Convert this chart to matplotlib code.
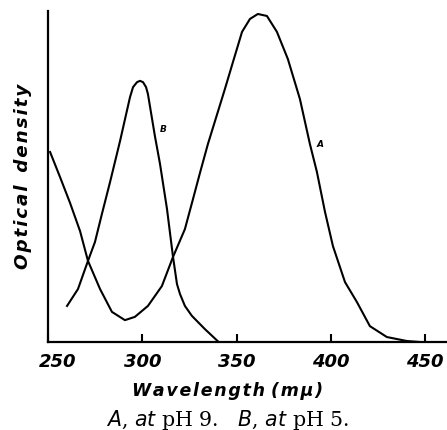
import numpy as np
import matplotlib
matplotlib.use("Agg")
import matplotlib.pyplot as plt
import matplotlib.transforms as mtransforms

# Curve A (pH 9): wavelength (m\u03bc) vs optical density (relative)
wl_a = [251.1, 256.4, 261.7, 267.0, 271.2, 277.6, 283.9, 290.8, 296.1, 303.0,
        310.4, 316.3, 322.6, 326.9, 330.6, 334.8, 343.8, 348.1, 352.9, 357.1,
        361.3, 366.1, 371.4, 377.2, 383.6, 388.9, 392.6, 396.9, 401.1, 407.5,
        413.8, 420.7, 429.7, 440.3, 447.2]
od_a = [0.574, 0.498, 0.420, 0.335, 0.245, 0.160, 0.091, 0.066, 0.076, 0.109,
        0.169, 0.257, 0.341, 0.432, 0.511, 0.598, 0.764, 0.846, 0.937, 0.976,
        0.991, 0.985, 0.937, 0.855, 0.734, 0.598, 0.514, 0.393, 0.290, 0.181,
        0.121, 0.048, 0.015, 0.003, 0.0]

# Curve B (pH 5)
wl_b = [260.1, 265.9, 271.2, 274.9, 278.6, 282.9, 288.2, 293.5, 295.1, 297.2,
        298.8, 300.4, 302.0, 303.0, 306.7, 309.4, 313.1, 316.3, 318.4, 320.0,
        322.6, 326.3, 333.2, 340.5]
od_b = [0.109, 0.160, 0.245, 0.302, 0.387, 0.483, 0.607, 0.740, 0.770, 0.785,
        0.789, 0.785, 0.770, 0.749, 0.622, 0.538, 0.402, 0.257, 0.175, 0.145,
        0.109, 0.079, 0.039, 0.0]

xticks = [250, 300, 350, 400, 450]

bold_it = dict(family="DejaVu Sans", weight="bold", style="italic")
hair = "\u200a"

fig = plt.figure(figsize=(4.47, 4.31), dpi=100)
ax = fig.add_axes([48/447, 88/431, 399/447, 331/431])

ax.plot(wl_a, od_a, color="black", lw=1.5, solid_joinstyle="round")
ax.plot(wl_b, od_b, color="black", lw=1.5, solid_joinstyle="round")

ax.text(394.2, 0.601, "A", fontsize=6.5, ha="center", va="center", **bold_it)
ax.text(311.0, 0.645, "B", fontsize=6.5, ha="center", va="center", **bold_it)

ax.set_xlim(250, 461.6)
ax.set_ylim(0, 1.0)
ax.set_xticks(xticks)
ax.set_xticklabels([str(t) for t in xticks], fontsize=13, **bold_it)
ax.tick_params(axis="x", direction="in", length=6, width=1.5, pad=7)
ax.set_yticks([])
for s in ["top", "right"]:
    ax.spines[s].set_visible(False)
for s in ["left", "bottom"]:
    ax.spines[s].set_linewidth(1.6)

# first label sits right of the axis corner
lab0 = ax.get_xticklabels()[0]
lab0.set_transform(lab0.get_transform() + mtransforms.ScaledTranslation(10/100, 0, fig.dpi_scale_trans))

fig.text(228/447, 1 - 391/431, hair.join("Wavelength") + " " + hair.join("(m\u03bc)"),
         ha="center", va="center", fontsize=12.5, **bold_it)
fig.text(23/447, 1 - 176/431, hair.join("Optical") + "  " + hair.join("density"),
         ha="center", va="center", rotation=90, fontsize=13.2, **bold_it)
fig.text(228/447, 1 - 420/431, r"$A$, $at$ pH 9.   $B$, $at$ pH 5.", ha="center", va="center",
         fontsize=14.8, family="DejaVu Serif")

fig.savefig("out.png", dpi=100)
